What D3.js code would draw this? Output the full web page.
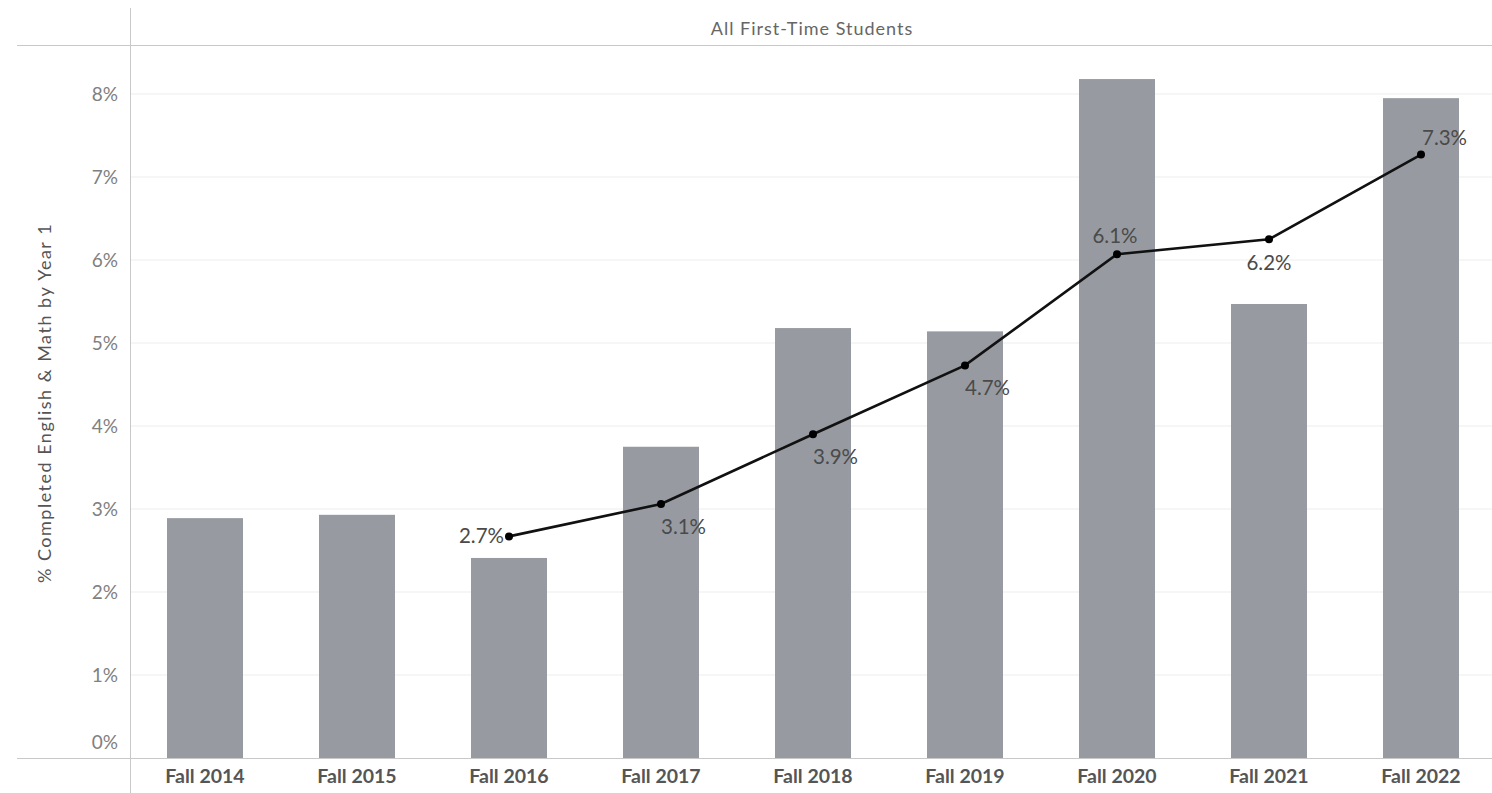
<!DOCTYPE html>
<html><head><meta charset="utf-8">
<script src="https://cdn.jsdelivr.net/npm/d3@7"></script>
<style>body{margin:0;background:#fff}svg{display:block}</style>
</head><body>
<script>
const categories = ["Fall 2014","Fall 2015","Fall 2016","Fall 2017","Fall 2018","Fall 2019","Fall 2020","Fall 2021","Fall 2022"];
const barValues = [2.89, 2.93, 2.41, 3.75, 5.18, 5.14, 8.18, 5.47, 7.95];
const lineCategories = ["Fall 2016","Fall 2017","Fall 2018","Fall 2019","Fall 2020","Fall 2021","Fall 2022"];
const lineValues = [2.67, 3.06, 3.90, 4.73, 6.07, 6.25, 7.27];
const lineLabels = ["2.7%","3.1%","3.9%","4.7%","6.1%","6.2%","7.3%"];
const labelPlacement = ["left","belowRight","belowRight","belowRight","above","below","aboveRight"];
const yTicks = [0,1,2,3,4,5,6,7,8];
const headerText = "All First-Time Students";
const yTitle = "% Completed English & Math by Year 1";

const W = 1492, H = 793;
const svg = d3.select("body").append("svg").attr("width", W).attr("height", H);
const font = "Lato, 'Open Sans', sans-serif";

const x = d3.scaleBand().domain(categories).range([129, 1497]).paddingInner(0.5).paddingOuter(0.25);
const y = d3.scaleLinear().domain([0, 8]).range([758, 94]);

// gridlines
svg.append("g").selectAll("line").data(yTicks.filter(d => d > 0)).join("line")
  .attr("x1", 130).attr("x2", W).attr("y1", d => y(d)).attr("y2", d => y(d))
  .attr("stroke", "#ededed").attr("stroke-width", 1);

// bars
svg.append("g").selectAll("rect").data(categories).join("rect")
  .attr("x", d => x(d)).attr("width", x.bandwidth())
  .attr("y", (d, i) => y(barValues[i])).attr("height", (d, i) => y(0) - y(barValues[i]))
  .attr("fill", "#979ba1");

// frame lines
svg.append("line").attr("x1", 17).attr("x2", W).attr("y1", 45.5).attr("y2", 45.5).attr("stroke", "#c8c8c8");
svg.append("line").attr("x1", 17).attr("x2", W).attr("y1", 758.5).attr("y2", 758.5).attr("stroke", "#c8c8c8");
svg.append("line").attr("x1", 130.5).attr("x2", 130.5).attr("y1", 8).attr("y2", H).attr("stroke", "#c8c8c8");

// header
svg.append("text").attr("x", 812).attr("y", 35).attr("text-anchor", "middle")
  .attr("font-family", font).attr("font-size", 18).attr("letter-spacing", 1).attr("fill", "#666").text(headerText);

// y axis labels
svg.append("g").selectAll("text").data(yTicks).join("text")
  .attr("x", 118).attr("y", d => d === 0 ? y(0) - 9 : y(d) + 7)
  .attr("text-anchor", "end").attr("font-family", font).attr("font-size", 19).attr("fill", "#808080")
  .text(d => d + "%");

// y title
svg.append("text").attr("transform", "translate(51,403) rotate(-90)").attr("text-anchor", "middle")
  .attr("font-family", font).attr("font-size", 18).attr("letter-spacing", 1.5).attr("fill", "#555").text(yTitle);

// x axis labels
const xAxis = d3.axisBottom(x).tickSize(0).tickPadding(0);
const gx = svg.append("g").attr("transform", "translate(0,769)").call(xAxis);
gx.select(".domain").remove();
gx.selectAll("text").attr("font-family", font).attr("font-size", 19.5).attr("font-weight", "bold").attr("fill", "#555");

// line
const cx = d => x(d) + x.bandwidth() / 2;
const pts = lineCategories.map((c, i) => [cx(c), y(lineValues[i])]);
svg.append("path").attr("d", d3.line()(pts)).attr("fill", "none").attr("stroke", "#111").attr("stroke-width", 2.6);
svg.append("g").selectAll("circle").data(pts).join("circle")
  .attr("cx", d => d[0]).attr("cy", d => d[1]).attr("r", 4).attr("fill", "#000");

// labels
const off = {
  left: {dx: -5, dy: 7, a: "end"},
  belowRight: {dx: 0, dy: 30, a: "start"},
  above: {dx: -2, dy: -11, a: "middle"},
  below: {dx: 0, dy: 31, a: "middle"},
  aboveRight: {dx: 1, dy: -10, a: "start"}
};
svg.append("g").selectAll("text").data(pts).join("text")
  .attr("x", (d, i) => d[0] + off[labelPlacement[i]].dx)
  .attr("y", (d, i) => d[1] + off[labelPlacement[i]].dy)
  .attr("text-anchor", (d, i) => off[labelPlacement[i]].a)
  .attr("font-family", font).attr("font-size", 20.5).attr("fill", "#4a4a4a")
  .text((d, i) => lineLabels[i]);
</script>
</body></html>
